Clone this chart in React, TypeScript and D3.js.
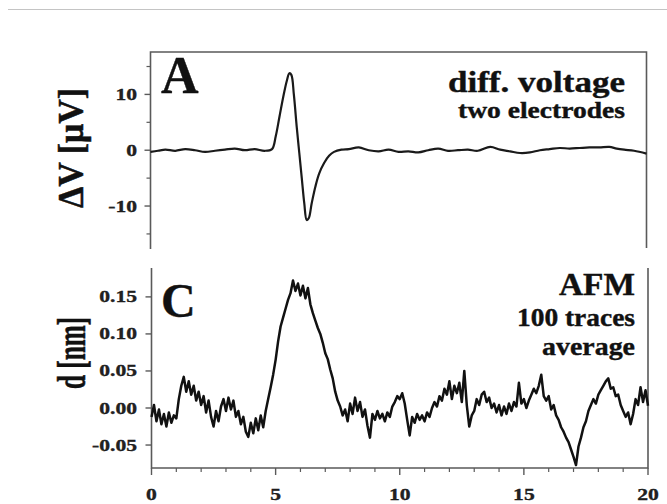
import React from "react";
import * as d3 from "d3";

// diff. voltage trace: time [x units], voltage [µV]
const voltT = [0, 0.3, 0.6, 1.0, 1.4, 1.8, 2.2, 2.6, 3.0, 3.4, 3.8, 4.2, 4.6, 4.9,
  5.05, 5.2, 5.35, 5.5, 5.6, 5.68, 5.78, 5.9, 6.0, 6.1, 6.2, 6.3, 6.38, 6.5, 6.65,
  6.8, 7.0, 7.2, 7.4, 7.7, 8.0, 8.4, 8.8, 9.2, 9.6, 10.0, 10.4, 10.8, 11.2, 11.6,
  12.0, 12.4, 12.8, 13.2, 13.7, 14.1, 14.5, 14.9, 15.3, 15.7, 16.1, 16.5, 16.9,
  17.3, 17.7, 18.1, 18.5, 18.8, 19.1, 19.5, 20.0];
const voltV = [-0.3, -0.1, 0.1, -0.1, 0.2, 0.0, -0.3, -0.1, 0.1, 0.3, 0.0, 0.2, -0.1, 0.2,
  2.5, 6, 9.5, 12.5, 13.8, 13.5, 10, 4, -0.5, -5, -9.5, -12.5, -12.2, -9.5, -6.5,
  -4.2, -2.3, -1.0, -0.3, 0.1, 0.2, 0.5, 0.0, -0.2, 0.1, -0.3, -0.2, -0.4, 0.0, 0.3,
  -0.1, 0.0, 0.1, -0.1, 0.6, 0.1, -0.2, -0.5, -0.4, 0.0, 0.2, 0.4, 0.3,
  0.4, 0.5, 0.5, 0.6, 0.3, 0.1, -0.1, -0.6];

// AFM average trace, sampled every 0.1 from 0 to 20 [nm]
const afmStep = 0.1;
const afmD = [
  -0.012, 0.004, -0.018, -0.002, -0.022, -0.008, -0.025, -0.006, -0.02, -0.01,
  -0.014, 0.012, 0.03, 0.042, 0.022, 0.036, 0.018, 0.03, 0.01, 0.022,
  0.004, 0.016, -0.006, 0.01, -0.012, -0.025, -0.004, -0.018, 0.002, 0.012,
  -0.004, 0.014, -0.002, 0.01, -0.012, -0.004, -0.022, -0.012, -0.032, -0.039,
  -0.02, -0.034, -0.014, -0.03, -0.01, -0.026, -0.004, 0.012, 0.028, 0.045,
  0.065, 0.09, 0.11, 0.122, 0.134, 0.146, 0.155, 0.172, 0.158, 0.168,
  0.152, 0.165, 0.148, 0.162, 0.14, 0.128, 0.118, 0.108, 0.1, 0.088,
  0.074, 0.066, 0.052, 0.04, 0.022, 0.01, 0.002, -0.01, -0.002, -0.018,
  0.006, -0.008, 0.014, -0.004, 0.008, -0.012, -0.002, -0.024, -0.04, -0.008,
  -0.016, -0.004, -0.014, -0.008, -0.018, -0.006, -0.012, 0.002, 0.008, 0.016,
  0.012, 0.02, 0.006, -0.016, -0.037, -0.012, -0.02, -0.008, -0.016, -0.01,
  -0.018, -0.006, -0.012, 0.0, 0.008, 0.002, 0.016, 0.01, 0.026, 0.018,
  0.036, 0.012, 0.03, 0.02, 0.034, 0.008, 0.05, 0.004, -0.025, -0.01,
  -0.004, 0.012, 0.004, 0.018, 0.022, 0.008, 0.014, 0.0, 0.006, -0.006,
  0.004, -0.01, 0.002, -0.008, 0.006, -0.004, 0.008, 0.002, 0.034, 0.006,
  0.012, 0.0, 0.01, 0.018, 0.026, 0.02, 0.03, 0.045, 0.016, 0.01,
  0.016, -0.002, 0.004, -0.01, -0.016, -0.026, -0.032, -0.04, -0.046, -0.056,
  -0.066, -0.077, -0.052, -0.04, -0.026, -0.018, -0.004, 0.004, 0.012, 0.006,
  0.018, 0.024, 0.03, 0.036, 0.04, 0.026, 0.028, 0.016, 0.018, 0.004,
  -0.004, -0.012, -0.006, -0.022, -0.008, 0.012, 0.004, 0.028, 0.008, 0.024,
  0.003,
];

const xMajor = [0, 5, 10, 15, 20];
const xMinor = d3.range(0, 21).filter(v => v % 5 !== 0);
const voltMajor = [-10, 0, 10];
const voltMinor = [-15, -5, 5, 15];
const afmMajor = [-0.05, 0, 0.05, 0.1, 0.15];

const serif = "Liberation Serif, Times New Roman, Times, serif";
const axisColor = "#5a5a5a";

export default function App() {
  const xTop = d3.scaleLinear().domain([0, 20]).range([150.5, 646.5]);
  const yTop = d3.scaleLinear().domain([-17.7, 17.6]).range([249, 52]);
  const xBot = d3.scaleLinear().domain([0, 20]).range([151.5, 648]);
  const yBot = d3.scaleLinear().domain([-0.081, 0.189]).range([468, 268]);

  const voltLine = d3.line<number>()
    .x((_, i) => xTop(voltT[i]))
    .y(d => yTop(d))
    .curve(d3.curveCatmullRom.alpha(0.5));
  const afmLine = d3.line<number>()
    .x((_, i) => xBot(i * afmStep))
    .y(d => yBot(d));

  // scan looks a bit heavier than plain bold, so add a thin outline
  const txt = {fontFamily: serif, fontWeight: "bold" as const, stroke: "#111", strokeWidth: 0.4};

  // scanned tick labels are stretched sideways
  const tickLabel = (x, y, s, anchor = "end") => (
    <text key={s + x + y} transform={`translate(${x},${y}) scale(1.35,1)`}
      textAnchor={anchor} fontSize={16} style={{...txt, strokeWidth: 0.3}} fill="#222">{s}</text>
  );

  return (
    <svg width={667} height={504}
      style={{position: "absolute", left: 0, top: 0, background: "#fff"}}>
      <line x1={8} x2={667} y1={9.5} y2={9.5} stroke="#c4c4c4" strokeWidth={1.2}/>

      {/* panel A */}
      <path d={`M${xTop(0)},${yTop.range()[0]}V${yTop.range()[1]}H${xTop(20)}V${yTop.range()[0] - 1}`}
        fill="none" stroke={axisColor} strokeWidth={1.6}/>
      {voltMajor.map(v => (
        <line key={"vM" + v} x1={xTop(0) - 6} x2={xTop(0)} y1={yTop(v)} y2={yTop(v)}
          stroke={axisColor} strokeWidth={1.4}/>
      ))}
      {voltMinor.map(v => (
        <line key={"vm" + v} x1={xTop(0) - 4} x2={xTop(0)} y1={yTop(v)} y2={yTop(v)}
          stroke={axisColor} strokeWidth={1.2}/>
      ))}
      {voltMajor.map(v => tickLabel(137, yTop(v) + 5.5, String(v)))}
      <path d={voltLine(voltV) ?? ""} fill="none" stroke="#1a1a1a" strokeWidth={2.2}
        strokeLinejoin="round"/>
      <text x={161} y={93} fontSize={52} style={txt} fill="#111">A</text>
      <text x={625} y={92} fontSize={30} style={txt} fill="#111"
        textAnchor="end" textLength={177} lengthAdjust="spacingAndGlyphs">diff. voltage</text>
      <text x={625} y={118} fontSize={23} style={txt} fill="#111"
        textAnchor="end" textLength={167} lengthAdjust="spacingAndGlyphs">two electrodes</text>
      <text transform="translate(83,148) rotate(-90) scale(1,1.3)" textAnchor="middle"
        fontSize={27} style={txt} fill="#111"
        textLength={120} lengthAdjust="spacingAndGlyphs">ΔV [μV]</text>

      {/* panel C */}
      <path d={`M${xBot(0)},${yBot.range()[1]}V${yBot.range()[0]}H${xBot(20)}V${yBot.range()[1]}`}
        fill="none" stroke={axisColor} strokeWidth={1.6}/>
      {afmMajor.map(v => (
        <line key={"aM" + v} x1={xBot(0) - 6} x2={xBot(0)} y1={yBot(v)} y2={yBot(v)}
          stroke={axisColor} strokeWidth={1.4}/>
      ))}
      {afmMajor.map(v => tickLabel(137, yBot(v) + 5.5, v.toFixed(2)))}
      {xMajor.map(v => (
        <line key={"xM" + v} x1={xBot(v)} x2={xBot(v)} y1={yBot.range()[0]} y2={yBot.range()[0] + 7}
          stroke={axisColor} strokeWidth={1.4}/>
      ))}
      {xMinor.map(v => (
        <line key={"xm" + v} x1={xBot(v)} x2={xBot(v)} y1={yBot.range()[0]} y2={yBot.range()[0] + 4}
          stroke={axisColor} strokeWidth={1.2}/>
      ))}
      {xMajor.map(v => tickLabel(xBot(v), 500, String(v), "middle"))}
      <path d={afmLine(afmD) ?? ""} fill="none" stroke="#111" strokeWidth={2.5}
        strokeLinejoin="round"/>
      <text x={161} y={317} fontSize={48} style={txt} fill="#111">C</text>
      <text x={635} y={295} fontSize={31} style={txt} fill="#111"
        textAnchor="end" textLength={76} lengthAdjust="spacingAndGlyphs">AFM</text>
      <text x={635} y={326} fontSize={26} style={txt} fill="#111"
        textAnchor="end" textLength={118} lengthAdjust="spacingAndGlyphs">100 traces</text>
      <text x={635} y={355} fontSize={26} style={txt} fill="#111"
        textAnchor="end" textLength={93} lengthAdjust="spacingAndGlyphs">average</text>
      <text transform="translate(85,353) rotate(-90) scale(1,1.3)" textAnchor="middle"
        fontSize={30} style={txt} fill="#111"
        textLength={72} lengthAdjust="spacingAndGlyphs">d [nm]</text>
    </svg>
  );
}
